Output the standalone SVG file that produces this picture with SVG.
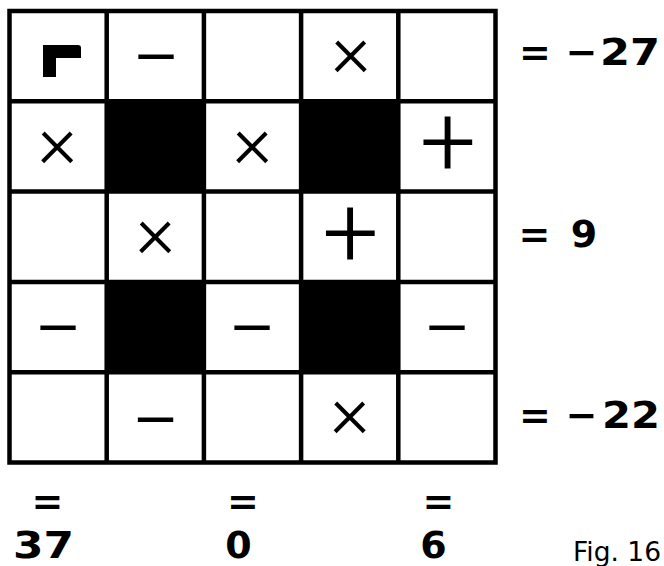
<svg xmlns="http://www.w3.org/2000/svg" width="664" height="566" viewBox="0 0 664 566">
<style>
.grid{fill:none;stroke:#000;stroke-width:4.5}
.blk{fill:#000}
.sym{font-family:Roboto,"DejaVu Sans",sans-serif;text-anchor:middle;fill:#000}
.x{font-size:75px;font-weight:300}
.p{font-size:100px;font-weight:300}
.m{font-size:62px;font-weight:400}
.lbl{font-family:"DejaVu Sans",sans-serif;font-weight:bold;font-size:38px;fill:#000}
.big{font-size:38px}
.fig{font-family:"DejaVu Sans",sans-serif;font-size:26px;fill:#000}
</style>
<rect width="664" height="566" fill="#fff"/>
<g id="black-cells">
<rect class="blk" x="106" y="100" width="98.5" height="92.5"/>
<rect class="blk" x="300.5" y="100" width="98.5" height="92.5"/>
<rect class="blk" x="106" y="281" width="98.5" height="92.5"/>
<rect class="blk" x="300.5" y="281" width="98.5" height="92.5"/>
</g>
<g id="grid">
<rect class="grid" x="9.5" y="11" width="486" height="451.5"/>
<path class="grid" d="M106.7,11V462.5M203.9,11V462.5M301.1,11V462.5M398.3,11V462.5M9.5,101.3H495.5M9.5,191.6H495.5M9.5,281.9H495.5M9.5,372.2H495.5"/>
</g>
<g id="start-mark">
<path class="blk" d="M43,45H78Q81,45 81,48V58H56V77H43Z"/>
</g>
<g id="row1">
<text class="sym m" transform="translate(156,79) scale(1.4,1)">−</text>
<text class="sym x" x="351" y="76">×</text>
</g>
<g id="row2">
<text class="sym x" x="57.5" y="167">×</text>
<text class="sym x" x="252.5" y="167">×</text>
<text class="sym p" x="448" y="176">+</text>
</g>
<g id="row3">
<text class="sym x" x="155.5" y="257">×</text>
<text class="sym p" x="350.5" y="267">+</text>
</g>
<g id="row4">
<text class="sym m" transform="translate(58,350) scale(1.4,1)">−</text>
<text class="sym m" transform="translate(252,350) scale(1.4,1)">−</text>
<text class="sym m" transform="translate(447,350) scale(1.4,1)">−</text>
</g>
<g id="row5">
<text class="sym m" transform="translate(155.5,442) scale(1.4,1)">−</text>
<text class="sym x" x="350" y="437">×</text>
</g>
<g id="row-sums">
<text class="lbl" y="65"><tspan x="535" text-anchor="middle">=</tspan><tspan x="581.5" text-anchor="middle">−</tspan><tspan x="600" textLength="60" lengthAdjust="spacingAndGlyphs">27</tspan></text>
<text class="lbl" y="247"><tspan x="534.5" text-anchor="middle">=</tspan><tspan x="584" text-anchor="middle">9</tspan></text>
<text class="lbl" y="428"><tspan x="535" text-anchor="middle">=</tspan><tspan x="581.5" text-anchor="middle">−</tspan><tspan x="602" textLength="58" lengthAdjust="spacingAndGlyphs">22</tspan></text>
</g>
<g id="col-sums">
<text class="lbl" x="47.5" y="513.5" text-anchor="middle">=</text>
<text class="lbl big" x="13" y="558" textLength="61" lengthAdjust="spacingAndGlyphs">37</text>
<text class="lbl" x="243" y="513.5" text-anchor="middle">=</text>
<text class="lbl big" x="238.5" y="558" text-anchor="middle">0</text>
<text class="lbl" x="438.5" y="513.5" text-anchor="middle">=</text>
<text class="lbl big" x="433.5" y="558" text-anchor="middle">6</text>
</g>
<text class="fig" x="573" y="561" textLength="88" lengthAdjust="spacingAndGlyphs">Fig. 16</text>
</svg>
